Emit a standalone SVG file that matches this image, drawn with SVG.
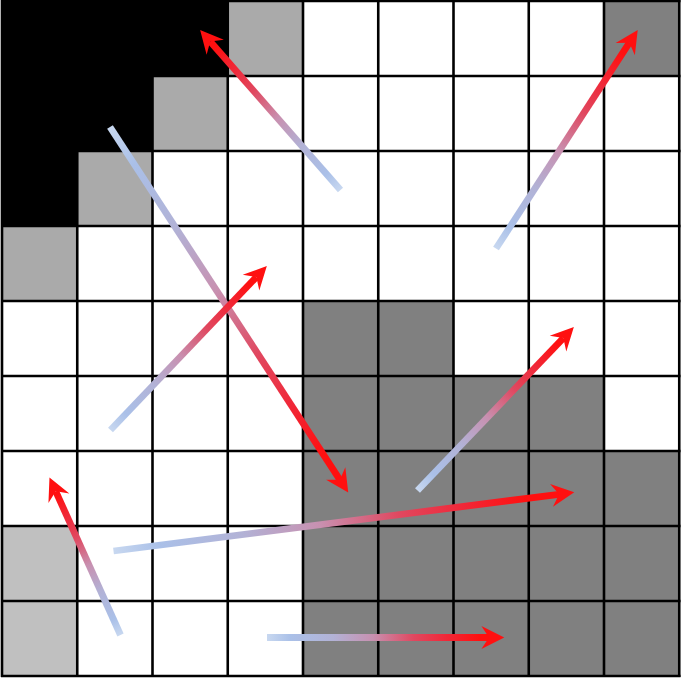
<svg xmlns="http://www.w3.org/2000/svg" width="682" height="679" viewBox="0 0 682 679">
<style>
.dk{fill:#808080}.md{fill:#aaaaaa}.lt{fill:#c0c0c0}.bk{fill:#000000}
.grid line{stroke:#000;stroke-width:2.6}
.arr{fill:none;stroke-width:6.8;stroke-linecap:butt;marker-end:url(#head)}
</style>
<defs>
<marker id="head" markerUnits="userSpaceOnUse" markerWidth="24" markerHeight="24" viewBox="0 -11 22 22" refX="7" refY="0" orient="auto" overflow="visible">
<path d="M0,-10.5 L21,0 L0,10.5 L7,0 Z" fill="#ff1010"/>
</marker>
<linearGradient id="base">
<stop offset="0" stop-color="#c8d8f0"/>
<stop offset="0.1" stop-color="#aac0e8"/>
<stop offset="0.28" stop-color="#b2b2d6"/>
<stop offset="0.45" stop-color="#c890b0"/>
<stop offset="0.62" stop-color="#e04860"/>
<stop offset="0.76" stop-color="#f02838"/>
<stop offset="0.9" stop-color="#ff1010"/>
<stop offset="1" stop-color="#ff1010"/>
</linearGradient>
<linearGradient id="g1" href="#base" gradientUnits="userSpaceOnUse" x1="340.5" y1="190" x2="201" y2="31"/>
<linearGradient id="g2" href="#base" gradientUnits="userSpaceOnUse" x1="110" y1="127" x2="347.5" y2="491.5"/>
<linearGradient id="g3" href="#base" gradientUnits="userSpaceOnUse" x1="110.5" y1="430" x2="266" y2="267"/>
<linearGradient id="g4" href="#base" gradientUnits="userSpaceOnUse" x1="496" y1="248.5" x2="637" y2="31"/>
<linearGradient id="g5" href="#base" gradientUnits="userSpaceOnUse" x1="417.5" y1="490.5" x2="573" y2="328"/>
<linearGradient id="g6" href="#base" gradientUnits="userSpaceOnUse" x1="113.5" y1="551" x2="573" y2="492.5"/>
<linearGradient id="g7" href="#base" gradientUnits="userSpaceOnUse" x1="120.5" y1="635" x2="50" y2="478.5"/>
<linearGradient id="g8" href="#base" gradientUnits="userSpaceOnUse" x1="267" y1="637.5" x2="503" y2="637.5"/>
</defs>
<rect x="0" y="0" width="682" height="679" fill="#ffffff"/>
<g id="cells">
<path id="black-region" class="bk" d="M2,1 H227.75 V76 H152.5 V151 H77.25 V226 H2 Z"/>
<g id="edge-cells">
<rect class="md" x="227.75" y="1" width="75.25" height="75"/>
<rect class="md" x="152.5" y="76" width="75.25" height="75"/>
<rect class="md" x="77.25" y="151" width="75.25" height="75"/>
<rect class="md" x="2" y="226" width="75.25" height="75"/>
</g>
<g id="light-cells">
<rect class="lt" x="2" y="526" width="75.25" height="150"/>
</g>
<g id="dark-region">
<rect class="dk" x="604" y="1" width="75.25" height="75"/>
<path class="dk" d="M303,301 H453.5 V376 H604 V451 H679.25 V676 H303 Z"/>
</g>
</g>
<g id="grid" class="grid">
<line x1="2" y1="0" x2="2" y2="677"/>
<line x1="77.25" y1="0" x2="77.25" y2="677"/>
<line x1="152.5" y1="0" x2="152.5" y2="677"/>
<line x1="227.75" y1="0" x2="227.75" y2="677"/>
<line x1="303" y1="0" x2="303" y2="677"/>
<line x1="378.25" y1="0" x2="378.25" y2="677"/>
<line x1="453.5" y1="0" x2="453.5" y2="677"/>
<line x1="528.75" y1="0" x2="528.75" y2="677"/>
<line x1="604" y1="0" x2="604" y2="677"/>
<line x1="679.25" y1="0" x2="679.25" y2="677"/>
<line x1="1" y1="1" x2="680.5" y2="1"/>
<line x1="1" y1="76" x2="680.5" y2="76"/>
<line x1="1" y1="151" x2="680.5" y2="151"/>
<line x1="1" y1="226" x2="680.5" y2="226"/>
<line x1="1" y1="301" x2="680.5" y2="301"/>
<line x1="1" y1="376" x2="680.5" y2="376"/>
<line x1="1" y1="451" x2="680.5" y2="451"/>
<line x1="1" y1="526" x2="680.5" y2="526"/>
<line x1="1" y1="601" x2="680.5" y2="601"/>
<line x1="1" y1="676" x2="680.5" y2="676"/>
</g>
<g id="connectors">
<path id="a1" class="arr" stroke="url(#g1)" d="M340.5,190 L210.2,41.5"/>
<path id="a2" class="arr" stroke="url(#g2)" d="M110,127 L339.9,479.8"/>
<path id="a3" class="arr" stroke="url(#g3)" d="M110.5,430 L256.3,277.1"/>
<path id="a4" class="arr" stroke="url(#g4)" d="M496,248.5 L629.4,42.7"/>
<path id="a5" class="arr" stroke="url(#g5)" d="M417.5,490.5 L563.3,338.1"/>
<path id="a6" class="arr" stroke="url(#g6)" d="M113.5,551 L559.1,494.3"/>
<path id="a7" class="arr" stroke="url(#g7)" d="M120.5,635 L55.75,491.3"/>
<path id="a8" class="arr" stroke="url(#g8)" d="M267,637.5 L489,637.5"/>
</g>
</svg>
